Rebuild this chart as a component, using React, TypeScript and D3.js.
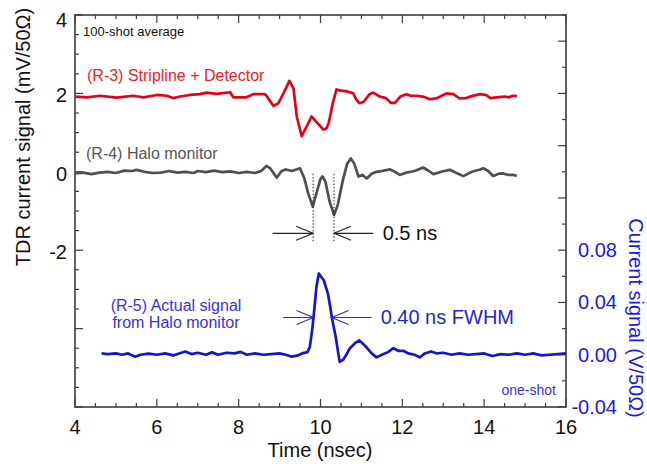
import React from "react";
import * as d3 from "d3";

// ---------- data ----------
// (R-3) Stripline + Detector, 100-shot average  [time ns, mV]
const stripTime = [4.0, 4.29, 4.61, 5.02, 5.42, 5.67, 6.0, 6.24, 6.4, 6.57, 6.81, 7.05, 7.22, 7.46, 7.79, 7.87, 8.19, 8.36, 8.64, 8.68, 8.85, 8.97, 9.09, 9.24, 9.34, 9.42, 9.54, 9.66, 9.78, 9.92, 10.07, 10.14, 10.2, 10.3, 10.39, 10.5, 10.65, 10.8, 10.87, 10.95, 11.05, 11.2, 11.29, 11.45, 11.6, 11.72, 11.82, 11.95, 12.1, 12.2, 12.35, 12.5, 12.68, 12.85, 13.0, 13.08, 13.25, 13.4, 13.55, 13.7, 13.9, 14.05, 14.15, 14.3, 14.5, 14.6, 14.7, 14.8];
const stripValue = [1.92, 1.9, 1.94, 1.89, 1.94, 1.9, 1.96, 1.94, 1.88, 1.92, 1.96, 1.98, 2.02, 1.99, 2.03, 1.9, 1.9, 1.98, 1.98, 1.94, 1.68, 1.75, 1.99, 2.32, 2.13, 1.41, 0.91, 1.15, 1.41, 1.25, 1.08, 1.1, 1.24, 1.75, 2.1, 2.07, 2.05, 2.0, 1.85, 1.75, 1.78, 1.98, 2.02, 1.92, 1.88, 1.76, 1.76, 1.92, 1.98, 1.94, 1.94, 1.92, 1.85, 1.88, 1.96, 2.0, 1.98, 1.87, 1.88, 1.93, 1.98, 1.96, 1.88, 1.9, 1.92, 1.9, 1.94, 1.93];

// (R-4) Halo monitor, 100-shot average  [time ns, mV]
const haloTime = [4.0, 4.2, 4.4, 4.6, 4.8, 5.0, 5.2, 5.4, 5.5, 5.7, 5.9, 6.1, 6.3, 6.5, 6.7, 6.9, 7.0, 7.2, 7.4, 7.6, 7.8, 8.0, 8.2, 8.4, 8.55, 8.68, 8.78, 8.93, 9.05, 9.15, 9.3, 9.5, 9.6, 9.7, 9.81, 9.9, 10.0, 10.05, 10.12, 10.22, 10.33, 10.42, 10.55, 10.65, 10.74, 10.82, 10.93, 11.02, 11.13, 11.25, 11.37, 11.5, 11.7, 11.82, 11.94, 12.1, 12.3, 12.51, 12.65, 12.76, 12.95, 13.16, 13.3, 13.49, 13.7, 13.9, 13.98, 14.1, 14.22, 14.35, 14.45, 14.6, 14.7, 14.8];
const haloValue = [-0.04, -0.02, -0.06, -0.02, 0.0, -0.03, 0.03, 0.02, 0.05, 0.0, -0.03, -0.02, 0.02, -0.02, 0.0, -0.03, 0.02, -0.01, 0.03, -0.01, 0.01, -0.03, 0.0, -0.03, 0.02, 0.15, 0.08, -0.15, 0.02, 0.06, 0.02, 0.09, -0.15, -0.55, -0.89, -0.55, -0.18, -0.12, -0.25, -0.75, -1.1, -0.85, -0.2, 0.2, 0.34, 0.22, -0.12, -0.08, -0.17, -0.05, 0.0, 0.02, 0.06, 0.0, -0.08, -0.02, 0.02, 0.11, 0.02, -0.06, 0.0, 0.05, -0.02, -0.11, 0.0, 0.06, 0.09, 0.02, -0.11, -0.05, -0.04, -0.08, -0.08, -0.1];

// (R-5) Actual signal from Halo monitor, one-shot  [time ns, V]
const shotTime = [4.65, 4.8, 5.0, 5.15, 5.3, 5.47, 5.6, 5.8, 6.0, 6.2, 6.4, 6.55, 6.69, 6.85, 7.0, 7.2, 7.35, 7.5, 7.7, 7.9, 8.05, 8.2, 8.4, 8.6, 8.8, 9.0, 9.15, 9.3, 9.45, 9.55, 9.68, 9.74, 9.8, 9.85, 9.9, 9.96, 10.02, 10.08, 10.13, 10.18, 10.23, 10.28, 10.37, 10.43, 10.47, 10.55, 10.63, 10.72, 10.85, 10.95, 11.05, 11.13, 11.25, 11.37, 11.5, 11.65, 11.78, 11.9, 12.02, 12.15, 12.3, 12.43, 12.55, 12.7, 12.85, 13.0, 13.2, 13.4, 13.6, 13.8, 14.0, 14.2, 14.4, 14.6, 14.8, 15.0, 15.2, 15.4, 15.6, 15.8, 16.0];
const shotValue = [0.001, 0.0005, 0.001, 0.0, 0.001, -0.0015, 0.0, 0.0008, 0.0, 0.001, -0.0005, 0.001, 0.0025, 0.0005, 0.0015, 0.0, 0.0018, 0.0, 0.0015, 0.001, 0.0022, 0.0, 0.001, 0.0, 0.0005, 0.001, 0.0, -0.0015, -0.0005, 0.001, 0.002, 0.006, 0.02, 0.035, 0.052, 0.0622, 0.0595, 0.057, 0.052, 0.047, 0.038, 0.028, 0.014, 0.002, -0.0055, -0.004, 0.0, 0.005, 0.009, 0.011, 0.008, 0.0055, 0.001, -0.002, 0.0, 0.002, 0.005, 0.003, 0.003, 0.001, 0.0, -0.002, 0.001, 0.0025, 0.001, 0.0015, 0.0, 0.001, 0.0, 0.0005, 0.001, -0.001, 0.0005, 0.0, 0.001, 0.0, 0.001, -0.0005, 0.0, 0.0005, 0.001];

// axis ticks / labels
const xLabels = [4, 6, 8, 10, 12, 14, 16];
const leftLabels = [4, 2, 0, -2];
const rightLabels = [0.08, 0.04, 0.0, -0.04];

// annotation anchors (data units)
const peakMarks = [9.82, 10.33]; // ns, dotted lines at R-4 minima
const fwhmEdges = [9.83, 10.27]; // ns, R-5 half maximum crossings

// ---------- layout ----------
const W = 647;
const H = 464;
const L = 75, R = 566, T = 15, B = 407;
const FONT = "'Liberation Sans', Arial, Helvetica, sans-serif";

const x = d3.scaleLinear().domain([4, 16]).range([L, R]);
const yL = d3.scaleLinear().domain([-6, 4]).range([B, T]);
const yR = d3.scaleLinear().domain([-0.04, 0.26]).range([B, T]);

const zip = (a: number[], b: number[]) => a.map((t, i) => [t, b[i]] as [number, number]);

export default function App() {
  const lineL = d3.line<[number, number]>().x(d => x(d[0])).y(d => yL(d[1]));
  const lineR = d3.line<[number, number]>().x(d => x(d[0])).y(d => yR(d[1]));

  const xTicks = d3.range(4, 16.001, 0.5);
  const lTicks = d3.range(-6, 4.001, 0.5);
  const rTicks = d3.range(-0.04, 0.2601, 0.02);
  const frame = "#3c3c3c";

  const arrow = (xTip: number, xTail: number, y: number, color: string, key: string) => {
    const dir = xTip > xTail ? 1 : -1;
    const hl = 17, hw = 7;
    return (
      <g key={key} stroke={color} strokeWidth={1.1} fill="none">
        <line x1={xTail} y1={y} x2={xTip} y2={y} />
        <path d={`M${xTip - dir * hl},${y - hw} L${xTip},${y} L${xTip - dir * hl},${y + hw}`} />
      </g>
    );
  };

  const yArrowHalo = yL(-1.57);
  const yArrowShot = yR(0.0285);

  return (
    <svg width={W} height={H} style={{ position: "absolute", left: 0, top: 0, background: "#fff" }} fontFamily={FONT}>
      <rect width={W} height={H} fill="#fff" />

      {/* ticks */}
      <g stroke={frame} strokeWidth={1.2}>
        {xTicks.map((t, i) => {
          const len = Math.abs(t % 2) < 1e-6 ? 8 : 4;
          return (
            <g key={"xt" + i}>
              <line x1={x(t)} x2={x(t)} y1={B} y2={B - len} />
              <line x1={x(t)} x2={x(t)} y1={T} y2={T + len} />
            </g>
          );
        })}
        {lTicks.map((v, i) => {
          const len = Math.abs(v % 2) < 1e-6 ? 8 : 4;
          return <line key={"lt" + i} x1={L} x2={L + len} y1={yL(v)} y2={yL(v)} />;
        })}
        {rTicks.map((v, i) => {
          const k = Math.round(v / 0.02);
          const len = k % 2 === 0 ? 8 : 4;
          return <line key={"rt" + i} x1={R} x2={R - len} y1={yR(v)} y2={yR(v)} />;
        })}
      </g>
      <rect x={L} y={T} width={R - L} height={B - T} fill="none" stroke={frame} strokeWidth={1.6} />

      {/* tick labels */}
      <g fontSize={20} fill="#111">
        {xLabels.map(t => (
          <text key={"xl" + t} x={x(t)} y={B + 27} textAnchor="middle">{t}</text>
        ))}
        {leftLabels.map(v => (
          <text key={"ll" + v} x={L - 8} y={yL(v) + (v === 4 ? 12 : 9)} textAnchor="end">{v}</text>
        ))}
      </g>
      <g fontSize={20} fill="#1a1ae6">
        {rightLabels.map(v => (
          <text key={"rl" + v} x={617} y={yR(v) + 7} textAnchor="end">{v.toFixed(2)}</text>
        ))}
      </g>

      {/* axis titles */}
      <text x={320} y={457} textAnchor="middle" fontSize={20} fill="#111">Time (nsec)</text>
      <text transform={`translate(30,137) rotate(-90)`} textAnchor="middle" fontSize={20} fill="#111">
        TDR current signal (mV/50Ω)
      </text>
      <text transform={`translate(629,318) rotate(90)`} textAnchor="middle" fontSize={20} fill="#1a1ae6">
        Current signal (V/50Ω)
      </text>

      {/* series */}
      <path d={lineL(zip(stripTime, stripValue)) || ""} fill="none" stroke="#e4001b" strokeWidth={2.7} strokeLinejoin="round" />
      <path d={lineL(zip(haloTime, haloValue)) || ""} fill="none" stroke="#4f4f4f" strokeWidth={2.7} strokeLinejoin="round" />
      <path d={lineR(zip(shotTime, shotValue)) || ""} fill="none" stroke="#1414c8" strokeWidth={2.7} strokeLinejoin="round" />

      {/* R-4 peak spacing annotation */}
      <g stroke="#222" strokeWidth={1} strokeDasharray="1.5,1.8">
        {peakMarks.map((t, i) => (
          <line key={"pm" + i} x1={x(t)} x2={x(t)} y1={yL(-0.05)} y2={yL(-1.82)} />
        ))}
      </g>
      {arrow(x(peakMarks[0]), x(8.83), yArrowHalo, "#222", "a1")}
      {arrow(x(peakMarks[1]), x(11.29), yArrowHalo, "#222", "a2")}
      <text x={x(11.52)} y={yL(-1.57) + 7} fontSize={20} fill="#111">0.5 ns</text>

      {/* R-5 FWHM annotation */}
      {arrow(x(fwhmEdges[0]), x(9.09), yArrowShot, "#2a2ad6", "a3")}
      {arrow(x(fwhmEdges[1]), x(11.25), yArrowShot, "#2a2ad6", "a4")}
      <text x={x(11.47)} y={yArrowShot + 7} fontSize={20} fill="#2424d2">0.40 ns FWHM</text>

      {/* labels */}
      <text x={83} y={36} fontSize={13} fill="#111">100-shot average</text>
      <text x={87} y={81} fontSize={16} fill="#f01c1c">(R-3) Stripline + Detector</text>
      <text x={86} y={159} fontSize={16} fill="#555">(R-4) Halo monitor</text>
      <g fontSize={16} fill="#3a30e0" textAnchor="middle">
        <text x={176} y={311}>(R-5) Actual signal</text>
        <text x={176} y={328}>from Halo monitor</text>
      </g>
      <text x={556} y={395} fontSize={14} fill="#3a30e0" textAnchor="end">one-shot</text>
    </svg>
  );
}
